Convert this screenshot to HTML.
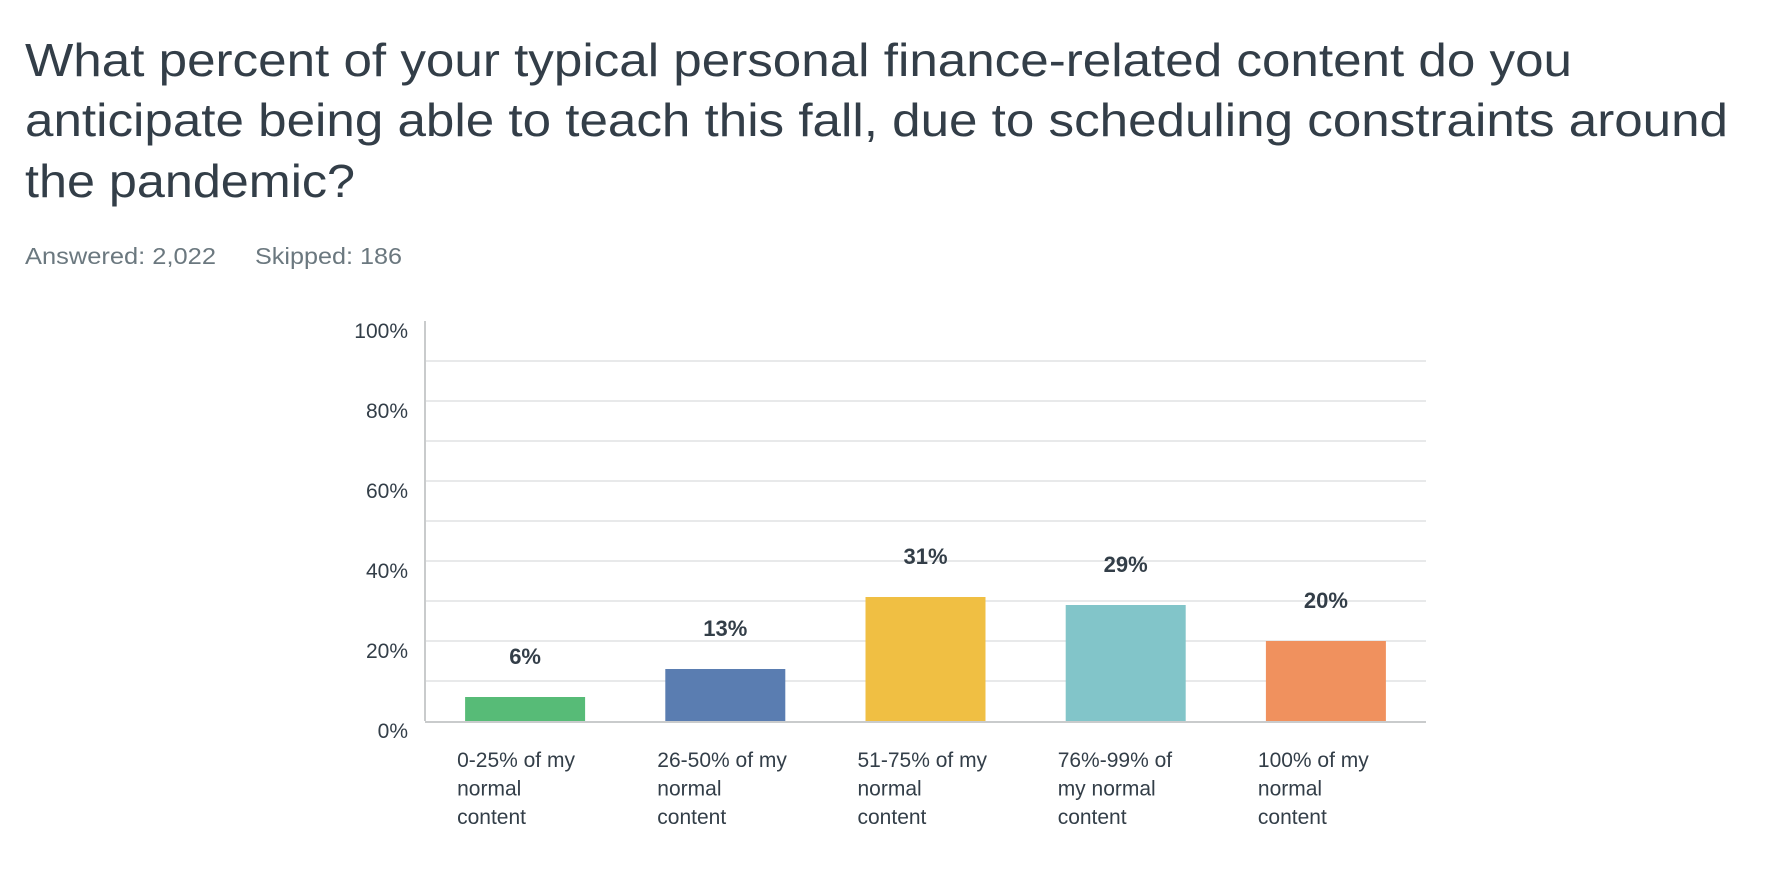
<!DOCTYPE html>
<html><head><meta charset="utf-8"><style>
html,body{margin:0;padding:0;background:#fff;width:1774px;height:892px;overflow:hidden}
svg{display:block;font-family:"Liberation Sans",sans-serif}
</style></head><body>
<svg id="chart" width="1774" height="892" viewBox="0 0 1774 892">
<g fill="#333e48" font-size="46">
<text x="25" y="76" textLength="1547" lengthAdjust="spacingAndGlyphs">What percent of your typical personal finance-related content do you</text>
<text x="25" y="136" textLength="1703" lengthAdjust="spacingAndGlyphs">anticipate being able to teach this fall, due to scheduling constraints around</text>
<text x="25" y="197" textLength="330" lengthAdjust="spacingAndGlyphs">the pandemic?</text>
</g>
<text x="25" y="264" font-size="23" fill="#6b787f" textLength="191" lengthAdjust="spacingAndGlyphs">Answered: 2,022</text>
<text x="255" y="264" font-size="23" fill="#6b787f" textLength="147" lengthAdjust="spacingAndGlyphs">Skipped: 186</text>
<g id="grid"></g><g id="bars"></g><g id="labels"></g>
</svg>
<script>
const categories = [["0-25% of my","normal","content"],["26-50% of my","normal","content"],["51-75% of my","normal","content"],["76%-99% of","my normal","content"],["100% of my","normal","content"]];
const values = [6, 13, 31, 29, 20];
const valueLabels = ["6%","13%","31%","29%","20%"];
const tickValues = [0, 20, 40, 60, 80, 100];
const tickLabels = ["0%","20%","40%","60%","80%","100%"];
const colors = ["#57bb77","#5a7db1","#f0bf43","#82c5c9","#f0915e"];

const NS="http://www.w3.org/2000/svg";
const X0=425,X1=1426,Y0=721,Y100=321;
const y=v=>Y0-(v/100)*(Y0-Y100);
const band=(X1-X0)/categories.length;
const xc=i=>X0+band*(i+0.5);
const barW=120;
function mk(tag,attrs,parent,text){const e=document.createElementNS(NS,tag);for(const k in attrs)e.setAttribute(k,attrs[k]);if(text!==undefined)e.textContent=text;parent.appendChild(e);return e;}
const grid=document.getElementById('grid'),bars=document.getElementById('bars'),labels=document.getElementById('labels');
for(let v=10;v<100;v+=10){
  const l=mk('line',{x1:X0,x2:X1,y1:y(v),y2:y(v),stroke:'#e8e9ea','stroke-width':2},grid);
  
  
}
tickValues.forEach((v,i)=>{
  const t=mk('text',{x:408,y:y(v)+17,'text-anchor':'end','font-size':21,fill:'#333e48'},grid,tickLabels[i]);
  
  
});
const ya=mk('line',{x1:X0,x2:X0,y1:Y100,y2:Y0,stroke:'#c9cbcc','stroke-width':2},grid);


values.forEach((v,i)=>{
  const r=mk('rect',{x:xc(i)-barW/2,y:y(v),width:barW,height:Y0-y(v),fill:colors[i]},bars);
  
  
  const t=mk('text',{x:xc(i),y:y(v)-33,'text-anchor':'middle','font-size':22,'font-weight':'bold',fill:'#333e48'},labels,valueLabels[i]);
  
  
  categories[i].forEach((line,j)=>{
    const c=mk('text',{x:xc(i)-68,y:767+j*28.5,'font-size':21,fill:'#333e48'},labels,line);
    
    
  });
});
const xa=mk('line',{x1:X0,x2:X1,y1:Y0+1,y2:Y0+1,stroke:'#c9cbcc','stroke-width':2},bars);


</script>
</body></html>
